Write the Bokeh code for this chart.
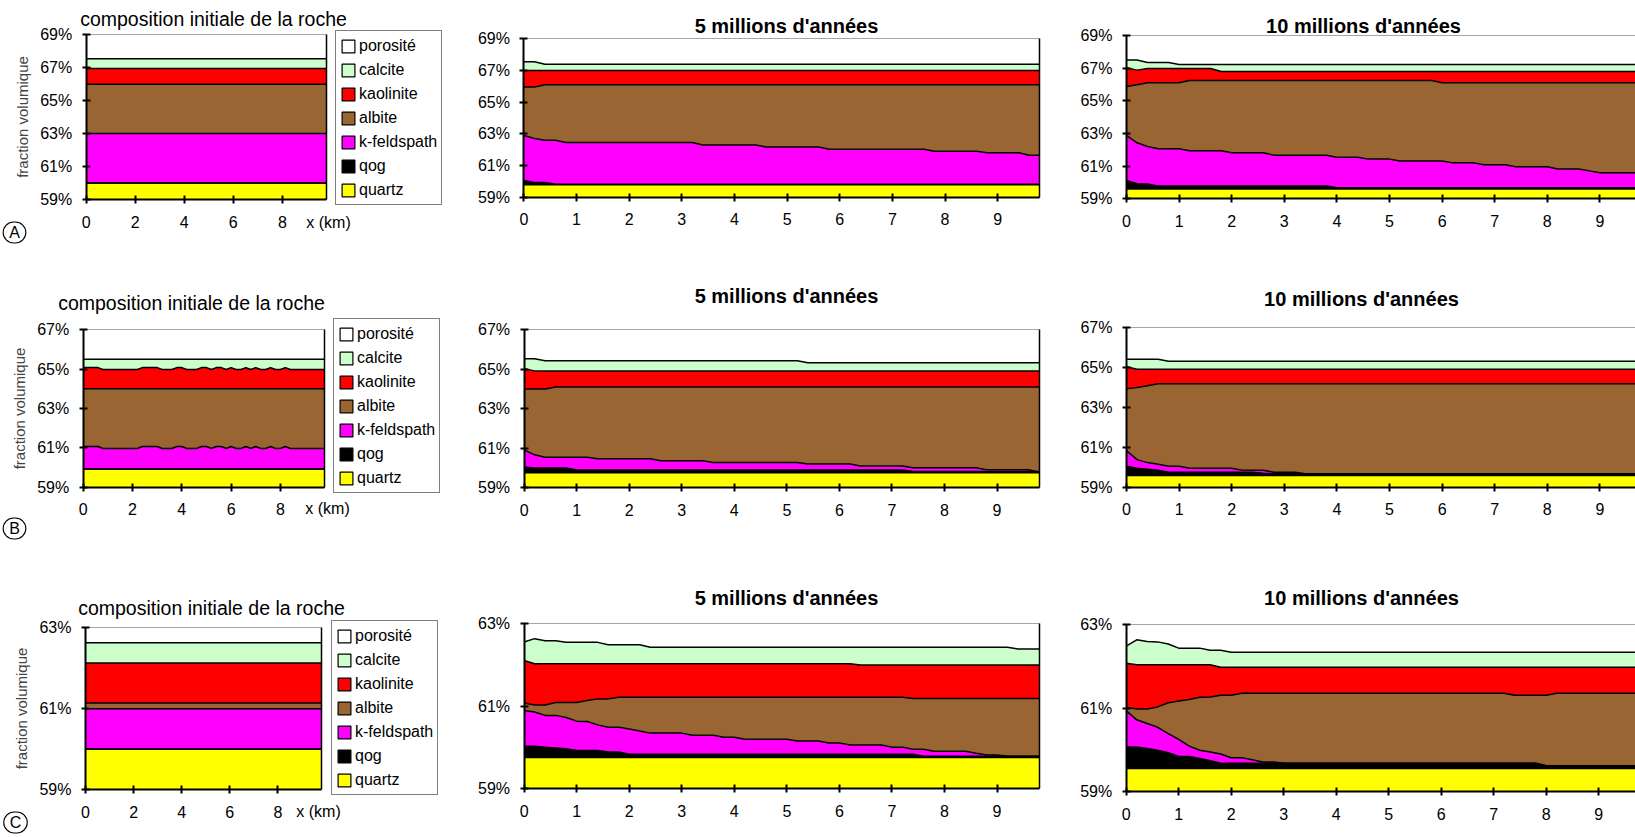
from bokeh.plotting import figure
from bokeh.models import (Range1d, FixedTicker, PrintfTickFormatter, Label, Legend, LegendItem,
                          LinearAxis)
from bokeh.layouts import row, column
from bokeh.embed import file_html
from bokeh.resources import INLINE

FONT = "Liberation Sans"
NAN = float("nan")

# ---------------- data (top level of each mineral in the stack, %) ----------------
legend_names = ["porosité", "calcite", "kaolinite", "albite", "k-feldspath", "qog", "quartz"]
colors = {"porosité": "#FFFFFF", "calcite": "#CCFFCC", "kaolinite": "#FF0000", "albite": "#996633",
          "k-feldspath": "#FF00FF", "qog": "#000000", "quartz": "#FFFF00"}
stack_order = ["calcite", "kaolinite", "albite", "k-feldspath", "qog", "quartz"]

# Row A
A0 = {
    "calcite": ([0, 9.8], [67.55, 67.55]),
    "kaolinite": ([0, 9.8], [66.95, 66.95]),
    "albite": ([0, 9.8], [66.0, 66.0]),
    "k-feldspath": ([0, 9.8], [63.0, 63.0]),
    "qog": ([0, 9.8], [60.0, 60.0]),
    "quartz": ([0, 9.8], [60.0, 60.0]),
}
A5 = {
    "calcite": ([0, 0.2, 0.4, 9.8], [67.55, 67.55, 67.4, 67.4]),
    "kaolinite": ([0, 9.8], [67.0, 67.0]),
    "albite": ([0, 0.2, 0.4, 9.8], [65.95, 65.95, 66.1, 66.1]),
    "k-feldspath": ([0, 0.2, 0.4, 0.6, 0.8, 3.2, 3.4, 4.4, 4.6, 5.6, 5.8, 7.6, 7.8, 8.6, 8.8, 9.4, 9.6, 9.8],
                    [62.9, 62.7, 62.6, 62.6, 62.45, 62.45, 62.3, 62.3, 62.17, 62.17, 62.03, 62.03, 61.9, 61.9,
                     61.8, 61.8, 61.65, 61.65]),
    "qog": ([0, 0.2, 0.4, 0.6, 9.8], [60.05, 59.93, 59.93, 59.82, 59.82]),
    "quartz": ([0, 9.8], [59.78, 59.78]),
}
A10 = {
    "calcite": ([0, 0.2, 0.4, 0.8, 1.0, 9.8], [67.5, 67.5, 67.35, 67.35, 67.22, 67.22]),
    "kaolinite": ([0, 0.2, 0.4, 1.6, 1.8, 9.8], [67.02, 66.88, 66.98, 66.98, 66.8, 66.8]),
    "albite": ([0, 0.2, 0.4, 1.0, 1.2, 5.8, 6.0, 9.8], [65.88, 65.98, 66.1, 66.1, 66.24, 66.24, 66.1, 66.1]),
    "k-feldspath": ([0, 0.2, 0.4, 0.6, 1.0, 1.2, 1.8, 2.0, 2.6, 2.8, 3.8, 4.0, 4.4, 4.6, 5.0, 5.2, 6.0, 6.2,
                     6.6, 6.8, 7.2, 7.4, 8.0, 8.2, 8.6, 8.8, 9.0, 9.8],
                    [62.88, 62.43, 62.2, 62.06, 62.06, 61.94, 61.94, 61.82, 61.82, 61.67, 61.67, 61.55, 61.55,
                     61.43, 61.43, 61.31, 61.31, 61.2, 61.2, 61.08, 61.08, 60.96, 60.96, 60.82, 60.82, 60.71,
                     60.59, 60.59]),
    "qog": ([0, 0.2, 0.4, 0.6, 3.8, 4.0, 9.8], [60.12, 59.92, 59.9, 59.78, 59.78, 59.67, 59.67]),
    "quartz": ([0, 9.8], [59.6, 59.6]),
}

# Row B
B0_x = [0, 0.6, 0.8, 2.2, 2.4, 3.0, 3.2, 3.6, 3.8, 4.0, 4.2, 4.6, 4.8, 5.0, 5.2, 5.4, 5.6, 5.8, 6.0, 6.2,
        6.4, 6.6, 6.8, 7.0, 7.2, 7.4, 7.6, 7.8, 8.0, 8.2, 8.4, 9.8]
B0_kaol = [65.08, 65.08, 64.98, 64.98, 65.08, 65.08, 64.98, 64.98, 65.08, 65.08, 64.98, 64.98, 65.08, 65.08,
           64.98, 65.08, 65.08, 64.98, 65.08, 64.98, 64.98, 65.08, 64.98, 65.08, 64.98, 64.98, 65.08, 64.98,
           64.98, 65.08, 64.98, 64.98]
B0_kfeld = [61.07, 61.07, 60.97, 60.97, 61.07, 61.07, 60.97, 60.97, 61.07, 61.07, 60.97, 60.97, 61.07, 61.07,
            60.97, 61.07, 61.07, 60.97, 61.07, 60.97, 60.97, 61.07, 60.97, 61.07, 60.97, 60.97, 61.07, 60.97,
            60.97, 61.07, 60.97, 60.97]
B0 = {
    "calcite": ([0, 9.8], [65.5, 65.5]),
    "kaolinite": (B0_x, B0_kaol),
    "albite": ([0, 9.8], [64.0, 64.0]),
    "k-feldspath": (B0_x, B0_kfeld),
    "qog": ([0, 9.8], [59.93, 59.93]),
    "quartz": ([0, 9.8], [59.93, 59.93]),
}
B5 = {
    "calcite": ([0, 0.2, 0.4, 5.2, 5.4, 9.8], [65.53, 65.53, 65.43, 65.43, 65.33, 65.33]),
    "kaolinite": ([0, 0.2, 9.8], [65.03, 64.92, 64.92]),
    "albite": ([0, 0.4, 0.6, 9.8], [64.0, 64.0, 64.1, 64.1]),
    "k-feldspath": ([0, 0.2, 0.4, 1.2, 1.4, 2.4, 2.6, 3.4, 3.6, 5.2, 5.4, 6.2, 6.4, 7.2, 7.4, 8.6, 8.8, 9.6, 9.8],
                    [60.92, 60.67, 60.55, 60.55, 60.47, 60.47, 60.37, 60.37, 60.28, 60.28, 60.2, 60.2, 60.1,
                     60.1, 60.01, 60.01, 59.91, 59.91, 59.79]),
    "qog": ([0, 0.2, 0.8, 1.0, 7.2, 7.4, 9.8], [60.05, 60.0, 60.0, 59.9, 59.9, 59.83, 59.83]),
    "quartz": ([0, 9.8], [59.76, 59.76]),
}
B10 = {
    "calcite": ([0, 0.6, 0.8, 9.8], [65.4, 65.4, 65.3, 65.3]),
    "kaolinite": ([0, 0.2, 9.8], [65.02, 64.9, 64.9]),
    "albite": ([0, 0.2, 0.4, 0.6, 9.8], [63.92, 63.98, 64.07, 64.17, 64.17]),
    "k-feldspath": ([0, 0.2, 0.4, 0.6, 0.8, 1.0, 1.2, 2.0, 2.2, 2.6, 2.8, 3.2, 3.4, 9.8],
                    [60.83, 60.38, 60.23, 60.15, 60.05, 60.05, 59.95, 59.95, 59.85, 59.85, 59.75, 59.75,
                     59.67, 59.67]),
    "qog": ([0, 0.2, 0.4, 0.6, 0.8, 2.4, 2.6, 2.8, 9.8], [60.05, 59.95, 59.9, 59.85, 59.75, 59.75, 59.7, 59.67, 59.67]),
    "quartz": ([0, 9.8], [59.58, 59.58]),
}

# Row C
C0 = {
    "calcite": ([0, 9.8], [62.63, 62.63]),
    "kaolinite": ([0, 9.8], [62.13, 62.13]),
    "albite": ([0, 9.8], [61.14, 61.14]),
    "k-feldspath": ([0, 9.8], [61.0, 61.0]),
    "qog": ([0, 9.8], [60.0, 60.0]),
    "quartz": ([0, 9.8], [60.0, 60.0]),
}
C5 = {
    "calcite": ([0, 0.2, 0.4, 0.6, 0.8, 1.4, 1.6, 2.2, 2.4, 9.2, 9.4, 9.8],
                [62.56, 62.64, 62.59, 62.59, 62.55, 62.55, 62.49, 62.49, 62.43, 62.43, 62.39, 62.39]),
    "kaolinite": ([0, 0.2, 6.2, 6.4, 9.8], [62.11, 62.03, 62.03, 62.0, 62.0]),
    "albite": ([0, 0.2, 0.4, 0.6, 1.0, 1.2, 1.4, 1.6, 1.8, 7.2, 7.4, 9.8],
               [61.08, 61.03, 61.03, 61.09, 61.09, 61.14, 61.18, 61.18, 61.22, 61.22, 61.19, 61.19]),
    "k-feldspath": ([0, 0.2, 0.4, 0.6, 0.8, 1.0, 1.2, 1.4, 1.6, 1.8, 2.0, 2.2, 2.4, 3.0, 3.2, 3.6, 3.8, 4.0,
                     4.2, 5.0, 5.2, 5.6, 5.8, 6.0, 6.2, 6.8, 7.0, 7.2, 7.4, 7.6, 7.8, 8.4, 8.6, 8.8, 9.0, 9.2, 9.8],
                    [60.9, 60.86, 60.78, 60.78, 60.73, 60.64, 60.63, 60.55, 60.49, 60.49, 60.45, 60.4, 60.35,
                     60.35, 60.3, 60.3, 60.25, 60.25, 60.2, 60.2, 60.16, 60.16, 60.11, 60.11, 60.06, 60.06, 60.01,
                     60.01, 59.96, 59.96, 59.91, 59.91, 59.86, 59.82, 59.82, 59.79, 59.79]),
    "qog": ([0, 0.2, 0.4, 0.6, 0.8, 1.0, 1.4, 1.6, 1.8, 2.0, 7.4, 7.6, 9.8],
            [60.03, 60.03, 60.01, 59.99, 59.97, 59.93, 59.93, 59.89, 59.89, 59.84, 59.84, 59.79, 59.79]),
    "quartz": ([0, 9.8], [59.76, 59.76]),
}
C10 = {
    "calcite": ([0, 0.2, 0.4, 0.6, 0.8, 1.0, 1.4, 1.6, 1.8, 2.0, 9.8],
                [62.49, 62.64, 62.6, 62.59, 62.54, 62.44, 62.44, 62.39, 62.39, 62.34, 62.34]),
    "kaolinite": ([0, 0.2, 1.6, 1.8, 9.8], [62.08, 62.04, 62.04, 61.98, 61.98]),
    "albite": ([0, 0.2, 0.4, 0.6, 0.8, 1.0, 1.2, 1.4, 1.6, 1.8, 2.0, 2.2, 7.2, 7.4, 8.0, 8.2, 9.8],
               [61.02, 60.98, 60.98, 61.03, 61.13, 61.17, 61.21, 61.26, 61.27, 61.31, 61.31, 61.36, 61.36,
                61.31, 61.31, 61.36, 61.36]),
    "k-feldspath": ([0, 0.2, 0.4, 0.6, 0.8, 1.0, 1.2, 1.4, 1.6, 1.8, 2.0, 2.2, 2.4, 2.6, 2.8, 3.0, 7.8, 8.0, 9.8],
                    [60.94, 60.72, 60.63, 60.54, 60.39, 60.25, 60.09, 59.99, 59.95, 59.9, 59.81, 59.81, 59.76,
                     59.71, 59.71, 59.68, 59.68, 59.62, 59.62]),
    "qog": ([0, 0.2, 0.4, 0.6, 0.8, 1.0, 1.2, 1.4, 1.6, 1.8, 7.8, 8.0, 9.8],
            [60.07, 60.07, 60.03, 59.99, 59.93, 59.84, 59.84, 59.79, 59.74, 59.68, 59.68, 59.62, 59.62]),
    "quartz": ([0, 9.8], [59.55, 59.55]),
}

X_MAX = 9.8
init_ticks = [0, 2, 4, 6, 8]
time_ticks = [0, 1, 2, 3, 4, 5, 6, 7, 8, 9]
y_ticks_A = [59, 61, 63, 65, 67, 69]
y_ticks_B = [59, 61, 63, 65, 67]
y_ticks_C = [59, 61, 63]

title_init = "composition initiale de la roche"
title_5 = "5 millions d'années"
title_10 = "10 millions d'années"

# ---------------- layout geometry (page pixels) ----------------
ROW_Y = [0, 270, 560]
ROW_H = [270, 290, 277]
COL_X = [0, 470, 1070]
COL_W = [470, 600, 565]


def geom(r, c, L, kx, T, B, ybot, ytop):
    """Canvas of panel (r, c); the chart box starts at page x L (x=0) with kx px/km,
    and spans page y T (ytop) .. B (ybot)."""
    x0, y0, w, h = COL_X[c], ROW_Y[r], COL_W[c], ROW_H[r]
    ky = (B - T) / (ytop - ybot)
    return dict(x0=x0, y0=y0, w=w, h=h, kx=kx, ky=ky, ybot=ybot, ytop=ytop,
                xs=-(L - x0) / kx, xe=(x0 + w - L) / kx,
                ye=ytop + (T - y0) / ky, ys=ybot - (y0 + h - B) / ky)


def to_data(g, px, py):
    return g["xs"] + (px - g["x0"]) / g["kx"], g["ye"] - (py - g["y0"]) / g["ky"]


def add_text(p, g, px, py, text, size, style="normal", circled=False):
    x, y = to_data(g, px, py)
    kw = {}
    if circled:
        kw = dict(border_line_color="black", border_line_width=1.1, padding=(6, 2), border_radius=12)
    p.add_layout(Label(x=x, y=y, text=text, text_align="center", text_baseline="middle",
                       text_font=FONT, text_font_size=size, text_font_style=style,
                       text_color="black", **kw))


def style_axis(ax):
    ax.axis_line_color = "black"
    ax.axis_line_width = 2
    ax.major_tick_line_color = "black"
    ax.major_tick_line_width = 2
    ax.major_tick_in = 4
    ax.major_tick_out = 4
    ax.minor_tick_line_color = None
    ax.major_label_text_font = FONT
    ax.major_label_text_font_size = "16px"
    ax.major_label_text_color = "black"


def border_axis(loc, bounds, color, width):
    return LinearAxis(fixed_location=loc, bounds=bounds, ticker=FixedTicker(ticks=[]),
                      axis_line_color=color, axis_line_width=width, major_tick_line_color=None,
                      minor_tick_line_color=None, major_label_text_font_size="0px")


def make_panel(g, data, xticks, yticks, right_line=True):
    p = figure(width=g["w"], height=g["h"], x_range=Range1d(g["xs"], g["xe"]),
               y_range=Range1d(g["ys"], g["ye"]), output_backend="svg", toolbar_location=None,
               x_axis_location=None, y_axis_location=None,
               min_border_left=0, min_border_right=0, min_border_top=0, min_border_bottom=0)
    p.title.visible = False
    p.outline_line_color = None
    p.grid.visible = False
    p.background_fill_color = "white"
    p.border_fill_color = "white"

    for m in stack_order:
        xs, ys = data[m]
        p.varea(x=xs, y1=g["ybot"], y2=ys, fill_color=colors[m], fill_alpha=1)
    for m in stack_order:
        xs, ys = data[m]
        p.line(x=xs, y=ys, line_color="black", line_width=1.5)

    # chart box border: grey top, black right
    p.add_layout(border_axis(g["ytop"], (0, X_MAX), "#a6a6a6", 1.2), "above")
    if right_line:
        p.add_layout(border_axis(X_MAX, (g["ybot"], g["ytop"]), "black", 1.5), "right")

    xa = LinearAxis(fixed_location=g["ybot"], bounds=(0, X_MAX), ticker=FixedTicker(ticks=xticks))
    style_axis(xa)
    xa.major_label_standoff = 12
    p.add_layout(xa, "below")
    ya = LinearAxis(fixed_location=0, bounds=(g["ybot"], g["ytop"]), ticker=FixedTicker(ticks=yticks),
                    formatter=PrintfTickFormatter(format="%d%%"))
    style_axis(ya)
    ya.major_label_standoff = 10
    p.add_layout(ya, "left")
    p._yax = ya
    return p


def add_legend(p, loc):
    swatches = {}
    for m in legend_names:
        swatches[m] = p.quad(left=[NAN], right=[NAN], bottom=[NAN], top=[NAN], fill_color=colors[m],
                             line_color="black", line_width=1.2)
    leg = Legend(items=[LegendItem(label=m, renderers=[swatches[m]]) for m in legend_names],
                 location=loc, orientation="vertical", border_line_color="black", border_line_width=1.5,
                 background_fill_color="white", background_fill_alpha=1.0,
                 label_text_font=FONT, label_text_font_size="16px", label_text_color="black",
                 glyph_width=16, glyph_height=16, label_height=21, label_standoff=3, spacing=3,
                 padding=4, margin=0)
    p.add_layout(leg)


def init_extras(p, g, title_xy, km_xy, letter, letter_xy):
    ya = p._yax
    ya.axis_label = "fraction volumique"
    ya.axis_label_text_font = FONT
    ya.axis_label_text_font_size = "15px"
    ya.axis_label_text_font_style = "normal"
    ya.axis_label_standoff = 6
    add_text(p, g, title_xy[0], title_xy[1], title_init, "19.5px")
    add_text(p, g, km_xy[0], km_xy[1], "x (km)", "16px")
    add_text(p, g, letter_xy[0], letter_xy[1], letter, "16px", circled=True)


# Row A
gA0 = geom(0, 0, 85.7, 24.52, 34.3, 199.0, 59, 69)
gA5 = geom(0, 1, 523.4, 52.64, 38.3, 196.7, 59, 69)
gA10 = geom(0, 2, 1126.0, 52.6, 35.0, 198.3, 59, 69)
# Row B
gB0 = geom(1, 0, 82.7, 24.65, 329.3, 486.7, 59, 67)
gB5 = geom(1, 1, 523.6, 52.55, 329.3, 487.3, 59, 67)
gB10 = geom(1, 2, 1126.0, 52.6, 326.7, 486.7, 59, 67)
# Row C
gC0 = geom(2, 0, 85.0, 24.05, 627.3, 789.0, 59, 63)
gC5 = geom(2, 1, 523.6, 52.55, 623.3, 788.3, 59, 63)
gC10 = geom(2, 2, 1125.7, 52.5, 624.3, 791.0, 59, 63)

pA0 = make_panel(gA0, A0, init_ticks, y_ticks_A)
init_extras(pA0, gA0, (213, 18), (328, 222), "A", (14, 232))
add_legend(pA0, (335, 65))
pA5 = make_panel(gA5, A5, time_ticks, y_ticks_A)
add_text(pA5, gA5, 786, 25, title_5, "20px", "bold")
pA10 = make_panel(gA10, A10, time_ticks, y_ticks_A, right_line=False)
add_text(pA10, gA10, 1363, 25, title_10, "20px", "bold")

pB0 = make_panel(gB0, B0, init_ticks, y_ticks_B)
init_extras(pB0, gB0, (191, 302), (327, 508), "B", (14, 528))
add_legend(pB0, (333, 67))
pB5 = make_panel(gB5, B5, time_ticks, y_ticks_B)
add_text(pB5, gB5, 786, 295, title_5, "20px", "bold")
pB10 = make_panel(gB10, B10, time_ticks, y_ticks_B, right_line=False)
add_text(pB10, gB10, 1361, 298, title_10, "20px", "bold")

pC0 = make_panel(gC0, C0, init_ticks, y_ticks_C)
init_extras(pC0, gC0, (211, 607), (318, 811), "C", (15, 822))
add_legend(pC0, (331, 42))
pC5 = make_panel(gC5, C5, time_ticks, y_ticks_C)
add_text(pC5, gC5, 786, 597, title_5, "20px", "bold")
pC10 = make_panel(gC10, C10, time_ticks, y_ticks_C, right_line=False)
add_text(pC10, gC10, 1361, 597, title_10, "20px", "bold")

layout = column(row(pA0, pA5, pA10, spacing=0),
                row(pB0, pB5, pB10, spacing=0),
                row(pC0, pC5, pC10, spacing=0), spacing=0)

open("out.html", "w").write(file_html(layout, INLINE))
